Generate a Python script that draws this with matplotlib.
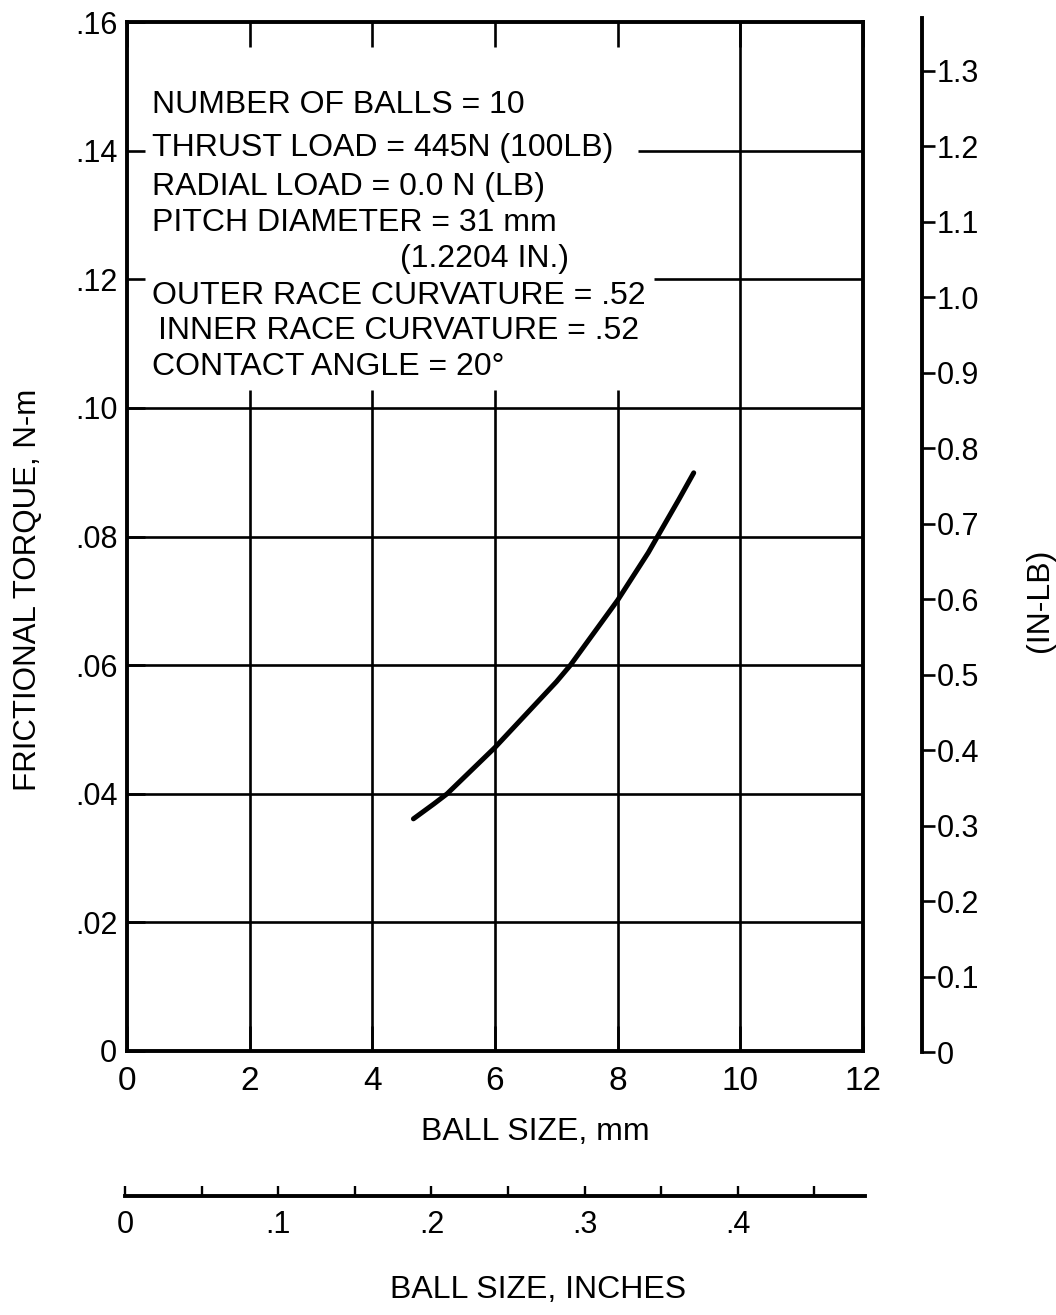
import matplotlib
matplotlib.use("Agg")
import matplotlib.pyplot as plt
from matplotlib.ticker import FixedLocator, FixedFormatter

plt.rcParams["font.family"] = ["Liberation Sans", "DejaVu Sans"]

# frictional torque vs ball size
ball_mm = [4.67, 5.0, 5.22, 6.0, 7.0, 7.23, 8.0, 8.5, 8.65, 9.0, 9.24]
torque_nm = [0.0361, 0.0384, 0.0400, 0.0472, 0.0574, 0.0600, 0.0701, 0.0775, 0.0800, 0.0858, 0.0899]

x_ticks_mm = [0, 2, 4, 6, 8, 10, 12]
y_ticks_nm = [0, 0.02, 0.04, 0.06, 0.08, 0.10, 0.12, 0.14, 0.16]
y_labels_nm = ["0", ".02", ".04", ".06", ".08", ".10", ".12", ".14", ".16"]

inlb_ticks = [0, 0.1, 0.2, 0.3, 0.4, 0.5, 0.6, 0.7, 0.8, 0.9, 1.0, 1.1, 1.2, 1.3]
inlb_labels = ["0", "0.1", "0.2", "0.3", "0.4", "0.5", "0.6", "0.7", "0.8", "0.9",
               "1.0", "1.1", "1.2", "1.3"]

inch_major = [0, 0.1, 0.2, 0.3, 0.4]
inch_labels = ["0", ".1", ".2", ".3", ".4"]
inch_minor = [0.05, 0.15, 0.25, 0.35, 0.45]

notes = [
    ("NUMBER OF BALLS = 10", 152, 105),
    ("THRUST LOAD = 445N (100LB)", 152, 148),
    ("RADIAL LOAD = 0.0 N (LB)", 152, 187),
    ("PITCH DIAMETER = 31 mm", 152, 223),
    ("(1.2204 IN.)", 400, 259),
    ("OUTER RACE CURVATURE = .52", 152, 296),
    ("INNER RACE CURVATURE = .52", 158, 331),
    ("CONTACT ANGLE = 20°", 152, 367),
]

W, H = 1056, 1315
fig = plt.figure(figsize=(W / 100, H / 100), dpi=100)


def box(x0, y0, x1, y1):
    # pixel box (top-left origin) -> figure fraction rect
    return [x0 / W, (H - y1) / H, (x1 - x0) / W, (y1 - y0) / H]


ax = fig.add_axes(box(127, 22, 863, 1051))
ax.set_xlim(0, 12)
ax.set_ylim(0, 0.16)

# grid, left open where the notes sit
grid_kw = dict(color="black", lw=1.9, zorder=1)
for x in [2, 4, 6, 8]:
    ax.vlines(x, 0, 0.1028, **grid_kw)
ax.vlines(10, 0, 0.16, **grid_kw)
for y in [0.02, 0.04, 0.06, 0.08, 0.10]:
    ax.hlines(y, 0, 12, **grid_kw)
ax.hlines(0.12, 8.6, 12, **grid_kw)
ax.hlines(0.14, 8.33, 12, **grid_kw)

ax.plot(ball_mm, torque_nm, color="black", lw=3.6, solid_capstyle="round",
        solid_joinstyle="round", zorder=3)

for s in ax.spines.values():
    s.set_linewidth(2.8)

ax.xaxis.set_major_locator(FixedLocator(x_ticks_mm))
ax.yaxis.set_major_locator(FixedLocator(y_ticks_nm))
ax.yaxis.set_major_formatter(FixedFormatter(y_labels_nm))
ax.tick_params(axis="x", which="major", direction="in", top=True, bottom=True,
               length=18, width=1.9, labelsize=24, pad=11)
ax.tick_params(axis="y", which="major", direction="in", left=True, right=False,
               length=13, width=1.9, labelsize=22, pad=7)

for text, px, py in notes:
    fig.text(px / W, 1 - py / H, text, fontsize=23, ha="left", va="center")

fig.text(28 / W, 1 - 590 / H, "FRICTIONAL TORQUE, N-m", rotation=90,
         fontsize=22.5, ha="center", va="center")
fig.text(535 / W, 1 - 1132 / H, "BALL SIZE, mm", fontsize=23, ha="center", va="center")

# in-lb scale on the right
axr = fig.add_axes(box(921, 18, 921.5, 1052))
axr.set_ylim(0, 1.37)
axr.set_xticks([])
for name in ["top", "bottom", "left"]:
    axr.spines[name].set_visible(False)
axr.spines["right"].set_linewidth(2.8)
axr.yaxis.tick_right()
axr.yaxis.set_major_locator(FixedLocator(inlb_ticks))
axr.yaxis.set_major_formatter(FixedFormatter(inlb_labels))
axr.tick_params(axis="y", direction="out", length=9, width=1.9, labelsize=22, pad=2)
axr.patch.set_visible(False)
fig.text(1040 / W, 1 - 600 / H, "(IN-LB)", rotation=90, fontsize=23,
         ha="center", va="center")

# ball size in inches below
axi = fig.add_axes(box(125, 1195, 865, 1196))
axi.set_xlim(0, 0.483)
axi.set_yticks([])
for name in ["top", "left", "right"]:
    axi.spines[name].set_visible(False)
axi.spines["bottom"].set_linewidth(2.8)
axi.patch.set_visible(False)
axi.xaxis.set_major_locator(FixedLocator(inch_major))
axi.xaxis.set_major_formatter(FixedFormatter(inch_labels))
axi.xaxis.set_minor_locator(FixedLocator(inch_minor))
axi.tick_params(axis="x", which="both", direction="in", length=7, width=1.7,
                labelsize=22, pad=10)
fig.text(538 / W, 1 - 1290 / H, "BALL SIZE, INCHES", fontsize=23, ha="center", va="center")

fig.savefig("out.png", dpi=100)
